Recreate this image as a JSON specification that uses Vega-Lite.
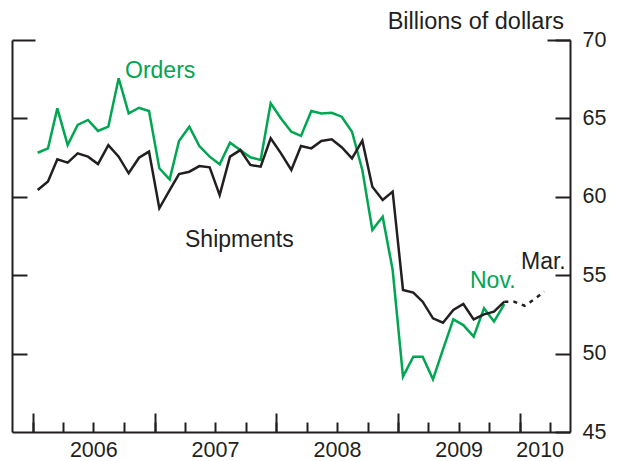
{
  "$schema": "https://vega.github.io/schema/vega-lite/v6.json",
  "width": 558,
  "height": 392,
  "autosize": "none",
  "padding": {"left": 12, "top": 40, "right": 48, "bottom": 29},
  "background": "white",
  "config": {
    "view": {"stroke": null},
    "axis": {
      "grid": false,
      "domainColor": "#231f20",
      "domainWidth": 2,
      "tickColor": "#231f20",
      "tickWidth": 2,
      "labelFont": "Liberation Sans",
      "labelFontSize": 21.5,
      "labelColor": "#231f20",
      "titleFont": "Liberation Sans",
      "titleFontSize": 23.5,
      "titleColor": "#231f20",
      "titleFontWeight": "normal"
    },
    "text": {"font": "Liberation Sans"}
  },
  "datasets": {
    "orders": [
      {"date": "2006-01-15", "value": 62.81}, {"date": "2006-02-15", "value": 63.09}, {"date": "2006-03-15", "value": 65.64}, {"date": "2006-04-15", "value": 63.30},
      {"date": "2006-05-15", "value": 64.58}, {"date": "2006-06-15", "value": 64.90}, {"date": "2006-07-15", "value": 64.20}, {"date": "2006-08-15", "value": 64.47},
      {"date": "2006-09-15", "value": 67.56}, {"date": "2006-10-15", "value": 65.32}, {"date": "2006-11-15", "value": 65.68}, {"date": "2006-12-15", "value": 65.47},
      {"date": "2007-01-15", "value": 61.82}, {"date": "2007-02-15", "value": 61.11}, {"date": "2007-03-15", "value": 63.56}, {"date": "2007-04-15", "value": 64.47},
      {"date": "2007-05-15", "value": 63.24}, {"date": "2007-06-15", "value": 62.56}, {"date": "2007-07-15", "value": 62.07}, {"date": "2007-08-15", "value": 63.45},
      {"date": "2007-09-15", "value": 62.98}, {"date": "2007-10-15", "value": 62.52}, {"date": "2007-11-15", "value": 62.35}, {"date": "2007-12-15", "value": 65.96},
      {"date": "2008-01-15", "value": 65.00}, {"date": "2008-02-15", "value": 64.15}, {"date": "2008-03-15", "value": 63.88}, {"date": "2008-04-15", "value": 65.47},
      {"date": "2008-05-15", "value": 65.32}, {"date": "2008-06-15", "value": 65.36}, {"date": "2008-07-15", "value": 65.11}, {"date": "2008-08-15", "value": 64.15},
      {"date": "2008-09-15", "value": 61.71}, {"date": "2008-10-15", "value": 57.88}, {"date": "2008-11-15", "value": 58.73}, {"date": "2008-12-15", "value": 55.33},
      {"date": "2009-01-15", "value": 48.53}, {"date": "2009-02-15", "value": 49.80}, {"date": "2009-03-15", "value": 49.80}, {"date": "2009-04-15", "value": 48.36},
      {"date": "2009-05-15", "value": 50.27}, {"date": "2009-06-15", "value": 52.18}, {"date": "2009-07-15", "value": 51.82}, {"date": "2009-08-15", "value": 51.08},
      {"date": "2009-09-15", "value": 52.89}, {"date": "2009-10-15", "value": 52.04}, {"date": "2009-11-15", "value": 53.16}
    ],
    "shipments": [
      {"date": "2006-01-15", "value": 60.43}, {"date": "2006-02-15", "value": 60.97}, {"date": "2006-03-15", "value": 62.39}, {"date": "2006-04-15", "value": 62.18},
      {"date": "2006-05-15", "value": 62.77}, {"date": "2006-06-15", "value": 62.56}, {"date": "2006-07-15", "value": 62.09}, {"date": "2006-08-15", "value": 63.30},
      {"date": "2006-09-15", "value": 62.56}, {"date": "2006-10-15", "value": 61.50}, {"date": "2006-11-15", "value": 62.49}, {"date": "2006-12-15", "value": 62.88},
      {"date": "2007-01-15", "value": 59.27}, {"date": "2007-02-15", "value": 60.43}, {"date": "2007-03-15", "value": 61.45}, {"date": "2007-04-15", "value": 61.60},
      {"date": "2007-05-15", "value": 61.96}, {"date": "2007-06-15", "value": 61.88}, {"date": "2007-07-15", "value": 60.11}, {"date": "2007-08-15", "value": 62.56},
      {"date": "2007-09-15", "value": 62.98}, {"date": "2007-10-15", "value": 62.03}, {"date": "2007-11-15", "value": 61.92}, {"date": "2007-12-15", "value": 63.73},
      {"date": "2008-01-15", "value": 62.77}, {"date": "2008-02-15", "value": 61.71}, {"date": "2008-03-15", "value": 63.24}, {"date": "2008-04-15", "value": 63.09},
      {"date": "2008-05-15", "value": 63.56}, {"date": "2008-06-15", "value": 63.67}, {"date": "2008-07-15", "value": 63.16}, {"date": "2008-08-15", "value": 62.45},
      {"date": "2008-09-15", "value": 63.58}, {"date": "2008-10-15", "value": 60.64}, {"date": "2008-11-15", "value": 59.80}, {"date": "2008-12-15", "value": 60.33},
      {"date": "2009-01-15", "value": 54.06}, {"date": "2009-02-15", "value": 53.89}, {"date": "2009-03-15", "value": 53.31}, {"date": "2009-04-15", "value": 52.25},
      {"date": "2009-05-15", "value": 51.97}, {"date": "2009-06-15", "value": 52.78}, {"date": "2009-07-15", "value": 53.16}, {"date": "2009-08-15", "value": 52.18},
      {"date": "2009-09-15", "value": 52.50}, {"date": "2009-10-15", "value": 52.67}, {"date": "2009-11-15", "value": 53.31}
    ],
    "projection": [
      {"date": "2009-11-15", "value": 53.31}, {"date": "2009-12-15", "value": 53.30}, {"date": "2010-01-15", "value": 53.05},
      {"date": "2010-02-15", "value": 53.50}, {"date": "2010-03-15", "value": 53.95}
    ],
    "labels": [
      {"date": "2006-10-04", "value": 67.58, "label": "Orders", "series": "Orders"},
      {"date": "2007-04-02", "value": 56.78, "label": "Shipments", "series": "Shipments"},
      {"date": "2009-08-04", "value": 54.18, "label": "Nov.", "series": "Orders"},
      {"date": "2010-01-04", "value": 55.40, "label": "Mar.", "series": "Shipments"}
    ]
  },
  "resolve": {"axis": {"x": "independent", "y": "independent"}},
  "layer": [
    {
      "data": {"name": "orders"},
      "mark": {"type": "line", "color": "#00a651", "strokeWidth": 2.5},
      "encoding": {
        "x": {
          "field": "date", "type": "temporal",
          "scale": {"type": "utc", "domain": [{"year": 2005, "month": 10, "date": 30, "utc": true}, {"year": 2010, "month": 5, "date": 31, "utc": true}]},
          "axis": {
            "orient": "bottom", "title": null, "labels": false, "tickSize": -10, "domain": true,
            "values": [
              {"year": 2006, "month": 1, "date": 1, "utc": true}, {"year": 2006, "month": 4, "date": 1, "utc": true}, {"year": 2006, "month": 7, "date": 1, "utc": true}, {"year": 2006, "month": 10, "date": 1, "utc": true},
              {"year": 2007, "month": 1, "date": 1, "utc": true}, {"year": 2007, "month": 4, "date": 1, "utc": true}, {"year": 2007, "month": 7, "date": 1, "utc": true}, {"year": 2007, "month": 10, "date": 1, "utc": true},
              {"year": 2008, "month": 1, "date": 1, "utc": true}, {"year": 2008, "month": 4, "date": 1, "utc": true}, {"year": 2008, "month": 7, "date": 1, "utc": true}, {"year": 2008, "month": 10, "date": 1, "utc": true},
              {"year": 2009, "month": 1, "date": 1, "utc": true}, {"year": 2009, "month": 4, "date": 1, "utc": true}, {"year": 2009, "month": 7, "date": 1, "utc": true}, {"year": 2009, "month": 10, "date": 1, "utc": true},
              {"year": 2010, "month": 1, "date": 1, "utc": true}, {"year": 2010, "month": 4, "date": 1, "utc": true}
            ]
          }
        },
        "y": {
          "field": "value", "type": "quantitative",
          "scale": {"domain": [45, 70], "nice": false, "zero": false},
          "axis": {
            "orient": "right", "values": [45, 50, 55, 60, 65, 70], "tickSize": -15, "labelPadding": 27, "labelBaseline": "middle",
            "title": "Billions of dollars", "titleAngle": 0, "titleAlign": "right", "titleBaseline": "alphabetic", "titleX": -6.5, "titleY": -11.7,
            "domain": true
          }
        }
      }
    },
    {
      "data": {"name": "shipments"},
      "mark": {"type": "line", "color": "#231f20", "strokeWidth": 2.5},
      "encoding": {
        "x": {
          "field": "date", "type": "temporal",
          "axis": {
            "orient": "bottom", "title": null, "labels": false, "tickSize": -19, "domain": false,
            "values": [
              {"year": 2006, "month": 1, "date": 1, "utc": true}, {"year": 2007, "month": 1, "date": 1, "utc": true}, {"year": 2008, "month": 1, "date": 1, "utc": true},
              {"year": 2009, "month": 1, "date": 1, "utc": true}, {"year": 2010, "month": 1, "date": 1, "utc": true}
            ]
          }
        },
        "y": {
          "field": "value", "type": "quantitative",
          "axis": {"orient": "left", "values": [50, 55, 60, 65], "tickSize": -15, "labels": false, "title": null, "domain": true}
        }
      }
    },
    {
      "data": {"name": "projection"},
      "mark": {"type": "line", "color": "#231f20", "strokeWidth": 2.5, "strokeDash": [4, 5]},
      "encoding": {
        "x": {
          "field": "date", "type": "temporal",
          "axis": {
            "orient": "bottom", "title": null, "ticks": false, "domain": false, "labelPadding": 7, "format": "%Y", "labelAlign": "center",
            "values": [
              {"year": 2006, "month": 7, "date": 1, "utc": true}, {"year": 2007, "month": 7, "date": 1, "utc": true}, {"year": 2008, "month": 7, "date": 1, "utc": true},
              {"year": 2009, "month": 7, "date": 1, "utc": true}, {"year": 2010, "month": 3, "date": 1, "utc": true}
            ]
          }
        },
        "y": {
          "field": "value", "type": "quantitative",
          "axis": {"orient": "left", "values": [70], "tickSize": -23, "labels": false, "title": null, "domain": false}
        }
      }
    },
    {
      "data": {"name": "labels"},
      "mark": {"type": "text", "align": "left", "baseline": "alphabetic", "fontSize": 23, "font": "Liberation Sans"},
      "encoding": {
        "x": {"field": "date", "type": "temporal", "axis": null},
        "y": {
          "field": "value", "type": "quantitative",
          "axis": {"orient": "right", "values": [70], "tickSize": -23, "labels": false, "title": null, "domain": false}
        },
        "text": {"field": "label"},
        "color": {"field": "series", "type": "nominal", "scale": {"domain": ["Orders", "Shipments"], "range": ["#00a651", "#231f20"]}, "legend": null}
      }
    }
  ]
}
